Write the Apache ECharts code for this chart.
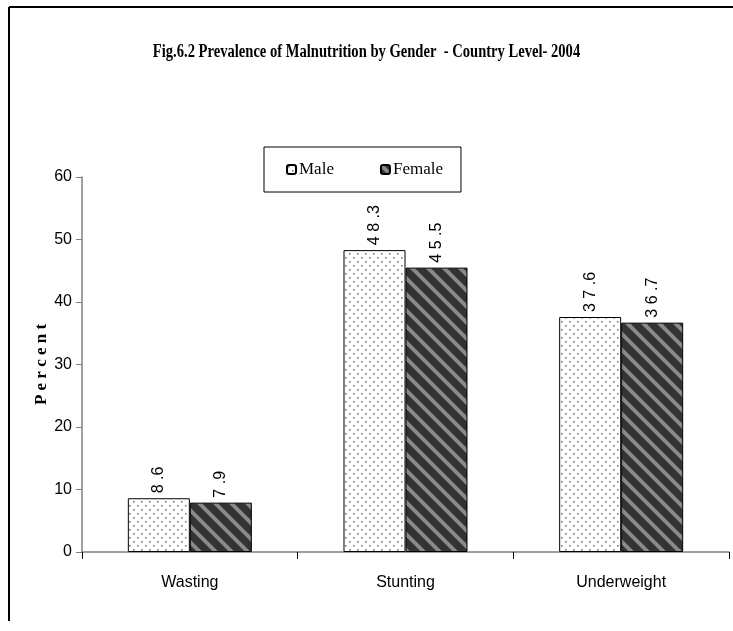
<!DOCTYPE html>
<html>
<head>
<meta charset="utf-8">
<style>html,body{margin:0;padding:0;background:#fff;}#c{width:733px;height:631px;}</style>
<script src="https://cdn.jsdelivr.net/npm/echarts@6/dist/echarts.min.js"></script>
</head>
<body>
<div id="c"></div>
<script>
var categories = ['Wasting', 'Stunting', 'Underweight'];
var maleValues = [8.6, 48.3, 37.6];
var femaleValues = [7.9, 45.5, 36.7];
var seriesNames = ['Male', 'Female'];
var yTicks = [0, 10, 20, 30, 40, 50, 60];
var titleText = 'Fig.6.2 Prevalence of Malnutrition by Gender  - Country Level- 2004';

function dotPattern() {
  var c = document.createElement('canvas');
  c.width = 8; c.height = 8;
  var g = c.getContext('2d');
  g.fillStyle = '#ffffff'; g.fillRect(0, 0, 8, 8);
  g.fillStyle = '#7a7a7a';
  g.fillRect(1, 1, 1.6, 1.6);
  g.fillRect(5, 5, 1.6, 1.6);
  return c;
}
function stripePattern() {
  var s = 16;
  var c = document.createElement('canvas');
  c.width = s; c.height = s;
  var g = c.getContext('2d');
  g.fillStyle = '#333333'; g.fillRect(0, 0, s, s);
  g.strokeStyle = '#8a8a8a'; g.lineWidth = 4;
  for (var k = -2; k <= 2; k++) {
    g.beginPath();
    g.moveTo(k * s - 2, -2);
    g.lineTo(k * s + s + 2, s + 2);
    g.stroke();
  }
  return c;
}
var malePat = { image: dotPattern(), repeat: 'repeat' };
var femalePat = { image: stripePattern(), repeat: 'repeat' };

function spacedLabel(v) {
  var s = String(v), out = '';
  for (var i = 0; i < s.length; i++) {
    var ch = s[i];
    if (i > 0 && ch !== '.' && s[i - 1] !== '.') out += ' ';
    else if (ch === '.') out += ' ';
    out += ch;
  }
  return out;
}
function spaced(v) { return String(v).split('').join(' '); }

var chart = echarts.init(document.getElementById('c'));
var labelCfg = {
  show: true, position: 'top', rotate: 90, align: 'left', verticalAlign: 'middle',
  distance: 5, fontFamily: 'Liberation Sans, Arial, sans-serif', fontSize: 16, color: '#000',
  formatter: function (p) { return spacedLabel(p.value); }
};
chart.setOption({
  animation: false,
  backgroundColor: '#fff',
  graphic: [
    { type: 'line', shape: { x1: 9, y1: 7, x2: 740, y2: 7 }, style: { stroke: '#000', lineWidth: 2 } },
    { type: 'line', shape: { x1: 9, y1: 7, x2: 9, y2: 621 }, style: { stroke: '#000', lineWidth: 2 } },
    { type: 'text', left: 'center', top: 43, scaleX: 0.81, originX: 366, style: {
      text: titleText, font: 'bold 18px "Liberation Serif", "Times New Roman", serif', fill: '#000' } }
  ],
  legend: {
    data: seriesNames,
    left: 264, top: 147,
    padding: [14, 18, 14, 22],
    itemGap: 46,
    itemWidth: 9, itemHeight: 9,
    borderColor: '#000', borderWidth: 1,
    textStyle: { fontFamily: 'Liberation Serif, Times New Roman, serif', fontSize: 17, color: '#000', padding: [0, 0, 0, -2] }
  },
  grid: { left: 82, right: 4, top: 177, bottom: 79 },
  xAxis: {
    type: 'category', data: categories,
    axisLine: { lineStyle: { color: '#808080', width: 1.5 } },
    axisTick: { show: true, length: 7, lineStyle: { color: '#000' } },
    axisLabel: { margin: 23, fontFamily: 'Liberation Sans Narrow, Liberation Sans, Arial, sans-serif', fontSize: 16, color: '#000' }
  },
  yAxis: {
    type: 'value', min: yTicks[0], max: yTicks[yTicks.length - 1], interval: 10,
    name: spaced('Percent'), nameLocation: 'middle', nameGap: 32, nameRotate: 90,
    nameMoveOverlap: false,
    nameTextStyle: { fontFamily: 'Liberation Serif, Times New Roman, serif', fontWeight: 'bold', fontSize: 17, color: '#000' },
    axisLine: { show: true, lineStyle: { color: '#808080', width: 1.5 } },
    axisTick: { show: true, length: 6, lineStyle: { color: '#808080' } },
    splitLine: { show: false },
    axisLabel: { margin: 10, fontFamily: 'Liberation Sans Narrow, Liberation Sans, Arial, sans-serif', fontSize: 16, color: '#000' }
  },
  series: [
    { name: seriesNames[0], type: 'bar', data: maleValues, barGap: '0%', barCategoryGap: '42.5%',
      itemStyle: { color: malePat, borderColor: '#000', borderWidth: 1 }, label: labelCfg },
    { name: seriesNames[1], type: 'bar', data: femaleValues,
      itemStyle: { color: femalePat, borderColor: '#000', borderWidth: 1 }, label: labelCfg }
  ]
});
</script>
</body>
</html>
